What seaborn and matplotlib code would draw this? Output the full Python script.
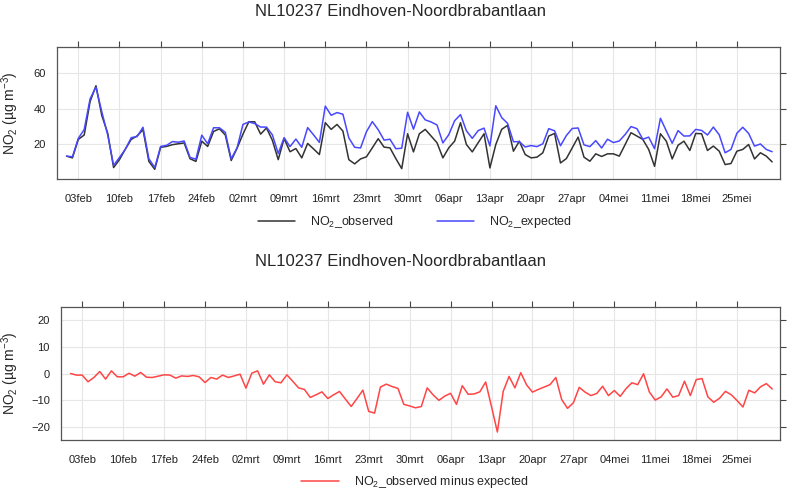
import pandas as pd
import seaborn as sns
import matplotlib.pyplot as plt

station = "NL10237 Eindhoven-Noordbrabantlaan"
start_date = "2020-02-01"

# daily NO2 observed (ug/m3)
observed = [13, 12, 22.5, 25, 44, 53, 36, 26, 6.5, 11,
            17, 22.5, 24.5, 28, 10, 5.5, 18, 18.5, 19.5, 20,
            20.5, 11.5, 10, 21.5, 18.5, 27, 28.5, 25, 10.5, 17.5,
            25.5, 32.5, 32.5, 25.5, 29, 22, 11, 23, 15.5, 17.3,
            12, 20.2, 17.1, 13.9, 32, 28.2, 31, 27.2, 11, 8.6,
            11.4, 12.6, 17.7, 22.9, 18.1, 17.7, 11.6, 5.9, 25.7, 15.4,
            25.7, 28.2, 24.4, 20.6, 12, 17.7, 21.5, 32, 19.6, 15.4,
            20.6, 25.7, 6.3, 19.6, 28.2, 30.5, 15.8, 21.5, 13.9, 12,
            12.4, 14.9, 24.4, 25.9, 9.1, 11.6, 17.7, 23.8, 12.4, 10.1,
            14.3, 12.8, 14.3, 14.3, 13, 19.6, 26.3, 24.4, 22.5, 16.8,
            7.2, 25.7, 21.5, 11.4, 19.2, 21.5, 16.2, 25.9, 25.7, 16.2,
            18.7, 15.8, 8.2, 8.8, 15.8, 16.8, 19.6, 11.4, 14.9, 13,
            9.7]

# observed minus expected
difference = [0, -0.6, -0.6, -3.1, -1.5, 0.75, -2.1, 1, -1.25, -1.25,
              0.1, -1, 0.4, -1.4, -1.5, -1, -0.5, -0.6, -1.75, -0.9,
              -1.1, -0.75, -1.25, -3.4, -1.5, -2.1, -0.6, -1.5, -0.9, -0.25,
              -5.5, 0.1, 1, -4, -0.5, -3.1, -3.5, -0.5, -2.9, -5.4,
              -6, -9, -8, -6.9, -9.4, -8, -6.75, -9.6, -12.4, -9.4,
              -6.25, -14.25, -14.9, -5.1, -4, -4.9, -5.6, -11.6, -12.2, -12.9,
              -12.4, -5.4, -8, -10.1, -8.5, -7.45, -11.6, -4.6, -7.8, -7.7,
              -6.9, -3.2, -12.5, -22, -6.7, -1.1, -5.4, 0.3, -4.3, -7,
              -6, -5.1, -4.2, -1.5, -9.8, -13.1, -11, -5.2, -7, -8.3,
              -7.5, -4.8, -8.3, -6.4, -8.6, -5.7, -3.5, -4.2, -0.1, -7,
              -10, -8.8, -5.8, -8.9, -8.3, -2.9, -8.3, -2.3, -1.9, -8.8,
              -10.8, -9.3, -6.7, -8, -10.2, -12.6, -6.3, -7.3, -5, -3.8,
              -5.8]

tick_dates = ["2020-02-03", "2020-02-10", "2020-02-17", "2020-02-24",
              "2020-03-02", "2020-03-09", "2020-03-16", "2020-03-23",
              "2020-03-30", "2020-04-06", "2020-04-13", "2020-04-20",
              "2020-04-27", "2020-05-04", "2020-05-11", "2020-05-18",
              "2020-05-25"]
tick_labels = ["03feb", "10feb", "17feb", "24feb", "02mrt", "09mrt", "16mrt",
               "23mrt", "30mrt", "06apr", "13apr", "20apr", "27apr", "04mei",
               "11mei", "18mei", "25mei"]

df = pd.DataFrame({"date": pd.date_range(start_date, periods=len(observed), freq="D"),
                   "observed": observed, "difference": difference})
df["expected"] = df["observed"] - df["difference"]

sns.set_theme(style="white")
plt.rcParams["font.family"] = ["Liberation Sans", "DejaVu Sans"]
plt.rcParams["mathtext.default"] = "regular"

fig = plt.figure(figsize=(7.89, 4.93), dpi=100)
ax1 = fig.add_axes([57 / 789, 1 - 179 / 493, 723 / 789, 132 / 493])
ax2 = fig.add_axes([61 / 789, 1 - 440 / 493, 719 / 789, 133 / 493])

sns.lineplot(data=df, x="date", y="observed", color="#333333", lw=1.1,
             label="NO$_2$_observed", ax=ax1)
sns.lineplot(data=df, x="date", y="expected", color="#4848ff", lw=1.1,
             label="NO$_2$_expected", ax=ax1)
sns.lineplot(data=df, x="date", y="difference", color="#ff4545", lw=1.1,
             label="NO$_2$_observed minus expected", ax=ax2)

xlim = (pd.Timestamp("2020-01-30 09:00"), pd.Timestamp("2020-06-01 08:00"))
setup = [(ax1, (0, 75), [20, 40, 60], 222, 57),
         (ax2, (-25, 25), [-20, -10, 0, 10, 20], 482, 61)]
for ax, ylim, yticks, leg_y, left_px in setup:
    ax.set_xlim(xlim)
    ax.set_ylim(ylim)
    ax.set_xticks(pd.to_datetime(tick_dates))
    ax.set_xticklabels(tick_labels)
    ax.set_yticks(yticks)
    ax.grid(True, color="#e6e6e6", lw=0.8)
    ax.tick_params(direction="out", length=4.5, width=0.8, color="#444444",
                   top=True, right=True, labelsize=8, labelcolor="#222222")
    ax.tick_params(axis="x", pad=6)
    for s in ax.spines.values():
        s.set_color("#555555")
        s.set_linewidth(0.9)
    ax.set_xlabel("")
    ax.set_ylabel("NO$_2$ (µg m$^{-3}$)", fontsize=10)
    # right edge of the rotated label sits ~20 px from the figure's left edge
    ax.yaxis.set_label_coords((21 - left_px) / (780 - left_px), 0.5)
    ax.legend(loc="center", bbox_to_anchor=(415 / 789, 1 - leg_y / 493),
              bbox_transform=fig.transFigure, ncol=2, frameon=False,
              fontsize=9, handlelength=3, handletextpad=1.2, columnspacing=3.4)

fig.text(0.507, 1 - 12 / 493, station, ha="center", va="center", fontsize=12)
fig.text(0.507, 1 - 262 / 493, station, ha="center", va="center", fontsize=12)

fig.savefig("out.png", dpi=100)
